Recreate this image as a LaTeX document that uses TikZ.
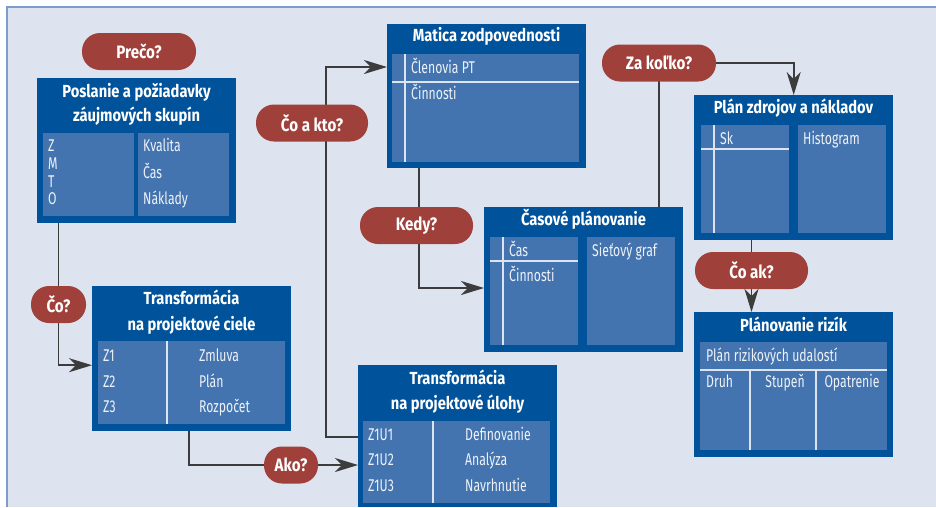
\documentclass[tikz,border=0pt]{standalone}
\usepackage{fontspec}
\setmainfont{Fira Sans}[FakeStretch=0.72]
\newfontfamily\ttlfont{Fira Sans}[FakeStretch=0.84]
\usetikzlibrary{arrows.meta}
\definecolor{bgc}{HTML}{DEE3F0}
\definecolor{framec}{HTML}{7E9BCB}
\definecolor{boxc}{HTML}{00529A}
\definecolor{panelc}{HTML}{4474AF}
\definecolor{pillc}{HTML}{A0403B}
\definecolor{linec}{HTML}{3C3C3C}
\definecolor{txtc}{HTML}{EEF2F8}
\definecolor{sepc}{HTML}{DCE4F0}
\begin{document}
\begin{tikzpicture}[x=1pt,y=-1pt,
  box/.style={fill=boxc, draw=none, anchor=north west, inner sep=0pt, minimum width=199pt, minimum height=145pt},
  panel/.style={fill=panelc},
  sep/.style={draw=sepc, line width=1.2pt},
  ttl/.style={text=white, font=\ttlfont\fontsize{17.5}{20}\selectfont\bfseries, inner sep=0pt, text height=12.5pt, text depth=3.5pt},
  txt/.style={text=txtc, font=\fontsize{17}{20}\selectfont, inner sep=0pt, anchor=west, text height=12pt, text depth=3.5pt},
  ctxt/.style={txt, anchor=center},
  pill/.style={fill=pillc, rounded corners=18pt, minimum height=37pt, inner sep=0pt, text=white, font=\ttlfont\fontsize{18}{20}\selectfont\bfseries},
  conn/.style={draw=linec, line width=1.6pt},
  arr/.style={conn, -{Stealth[length=23pt,width=14pt,inset=7pt]}}
]
\useasboundingbox (0,0) rectangle (936,507);
\fill[white] (0,0) rectangle (936,507);
\fill[bgc] (7,7) rectangle (936,507);
\draw[framec, line width=1.5pt] (7,507) -- (7,7) -- (936,7);

% boxes
\node[box] (A) at (37,78) {};
\node[box] (B) at (92,286) {};
\node[box, minimum height=142pt] (C) at (358,365) {};
\node[box, minimum height=144pt] (D) at (387,24) {};
\node[box] (E) at (484,207) {};
\node[box] (F) at (694,95) {};
\node[box] (G) at (694,312) {};

% pills (positions)
\coordinate (pA) at (139,51.5);
\coordinate (pB) at (58.5,304.5);
\coordinate (pC) at (291,465);
\coordinate (pD) at (312,123);
\coordinate (pE) at (416.5,225.5);
\coordinate (pF) at (659,63);
\coordinate (pG) at (751.5,270.5);
\coordinate (b3) at (326,67);
\coordinate (b4) at (419,288);

% connectors
\draw[arr] (pB |- A.south) |- ([yshift=-6.5pt]B.west);
\draw[conn] (B.south -| 189,0) |- (pC);
\draw[arr] (pC) -- (C.west |- pC);
\draw[arr] ([yshift=-1pt]C.west) -| (b3) -- (D.west |- b3);
\draw[arr] (D.south -| b4) |- (E.west |- b4);
\draw[conn] (E.north -| pF) -- (pF);
\draw[arr] (pF) -| (F.north);
\draw[arr] (F.south -| pG) -- (G.north -| pG);

% panels A
\fill[panel] (43,133) rectangle (134,216);
\fill[panel] (138,133) rectangle (229,216);
\node[ttl] (A1) at (136.5,93) {Poslanie a požiadavky};
\node[ttl] (A2) at (136.5,117) {záujmových skupín};
\node[txt] (Az) at (48,147.5) {Z};
\node[txt] (Am) at (48,165) {M};
\node[txt] (At) at (48,183) {T};
\node[txt] (Ao) at (48,200) {O};
\node[txt] (Ak) at (143,147.5) {Kvalita};
\node[txt] (Ac) at (143,174) {Čas};
\node[txt] (An) at (143,200) {Náklady};

% panels B
\fill[panel] (98,341) rectangle (285,424);
\draw[sep] (167,341) -- (167,424);
\node[ttl] (B1) at (191.5,300) {Transformácia};
\node[ttl] (B2) at (191.5,326) {na projektové ciele};
\node[txt] (Bz1) at (103,357) {Z1};
\node[txt] (Bz2) at (103,383) {Z2};
\node[txt] (Bz3) at (103,408) {Z3};
\node[txt] (Bt1) at (199,357) {Zmluva};
\node[txt] (Bt2) at (199,383) {Plán};
\node[txt] (Bt3) at (199,408) {Rozpočet};

% panels C
\fill[panel] (363,421) rectangle (550,503);
\draw[sep] (433,421) -- (433,503);
\node[ttl] (C1) at (457.5,380) {Transformácia};
\node[ttl] (C2) at (457.5,405) {na projektové úlohy};
\node[txt] (Cz1) at (368,436) {Z1U1};
\node[txt] (Cz2) at (368,461) {Z1U2};
\node[txt] (Cz3) at (368,487) {Z1U3};
\node[txt] (Ct1) at (465,436) {Definovanie};
\node[txt] (Ct2) at (465,461) {Analýza};
\node[txt] (Ct3) at (465,487) {Navrhnutie};

% panels D
\fill[panel] (392,54) rectangle (579,162);
\draw[sep] (405,54) -- (405,162);
\draw[sep] (392,82) -- (579,82);
\node[ttl] (D1) at (486.5,37) {Matica zodpovednosti};
\node[txt] (Dt1) at (411,69) {Členovia PT};
\node[txt] (Dt2) at (411,95) {Činnosti};

% panels E
\fill[panel] (490,237) rectangle (578,345);
\fill[panel] (587,237) rectangle (675,345);
\draw[sep] (503,237) -- (503,345);
\draw[sep] (490,261) -- (578,261);
\node[ttl] (E1) at (583.5,221) {Časové plánovanie};
\node[txt] (Et1) at (509,252) {Čas};
\node[txt] (Et2) at (509,277) {Činnosti};
\node[txt] (Et3) at (592,252) {Sieťový graf};

% panels F
\fill[panel] (701,125) rectangle (789,233);
\fill[panel] (798,125) rectangle (886,233);
\draw[sep] (714,125) -- (714,233);
\draw[sep] (701,149) -- (789,149);
\node[ttl] (F1) at (793.5,109) {Plán zdrojov a nákladov};
\node[txt] (Ft1) at (720,140) {Sk};
\node[txt] (Ft2) at (803,140) {Histogram};

% panels G
\fill[panel] (700,342) rectangle (887,450);
\draw[sep] (700,370) -- (887,370);
\draw[sep] (750,370) -- (750,450);
\draw[sep] (816,370) -- (816,450);
\node[ttl] (G1) at (793.5,327) {Plánovanie rizík};
\node[txt] (Gt1) at (706,357) {Plán rizikových udalostí};
\node[txt] (Gt2) at (706,383) {Druh};
\node[ctxt] (Gt3) at (785,383) {Stupeň};
\node[ctxt] (Gt4) at (852,383) {Opatrenie};

% pills
\node[pill, minimum width=114pt] (preco) at (pA) {Prečo?};
\node[pill, minimum width=55pt] (co) at (pB) {Čo?};
\node[pill, minimum width=54pt] (ako) at (pC) {Ako?};
\node[pill, minimum width=112pt] (cokto) at (pD) {Čo a kto?};
\node[pill, minimum width=113pt] (kedy) at (pE) {Kedy?};
\node[pill, minimum width=114pt] (zakolko) at (pF) {Za koľko?};
\node[pill, minimum width=113pt] (coak) at (pG) {Čo ak?};
\end{tikzpicture}
\end{document}
